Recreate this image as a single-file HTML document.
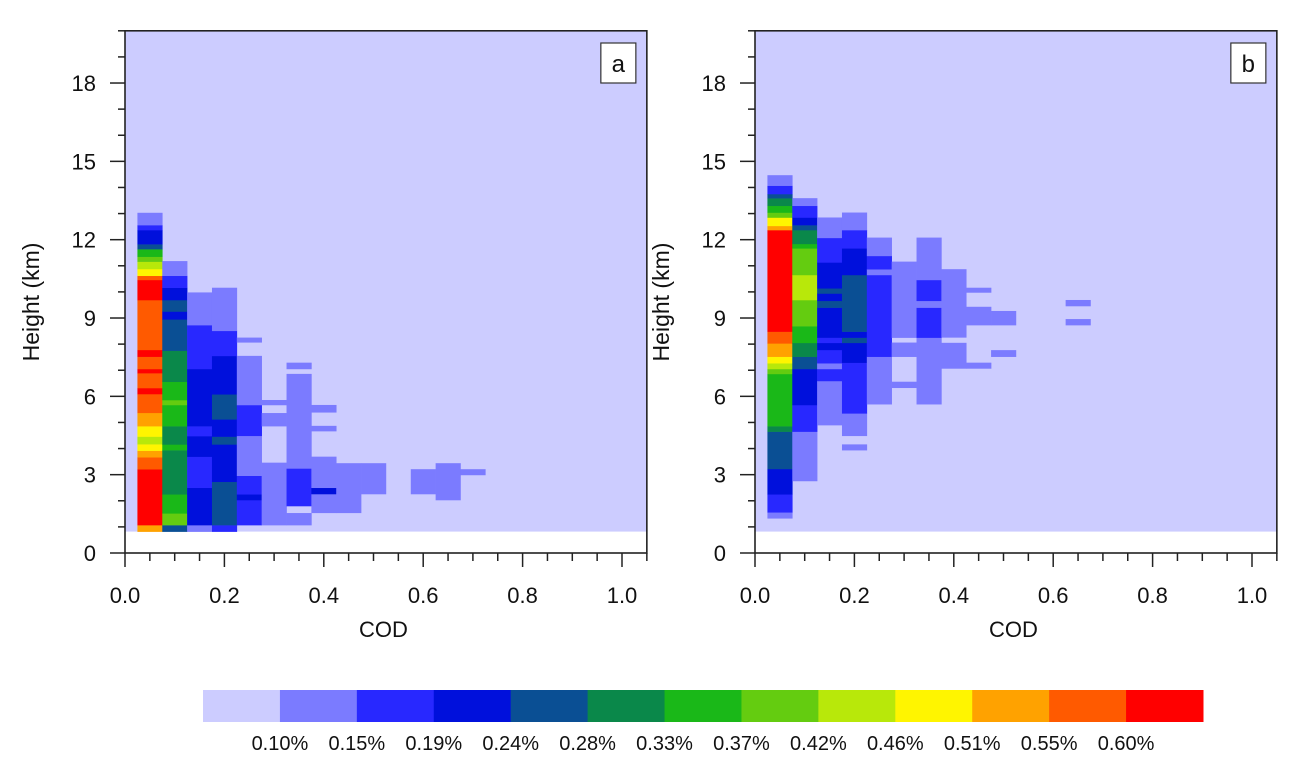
<!DOCTYPE html>
<html><head><meta charset="utf-8"><style>
html,body{margin:0;padding:0;background:#fff;}
svg{display:block;font-family:"Liberation Sans",Arial,sans-serif;}
</style></head><body>
<svg id="chart" width="1307" height="772" viewBox="0 0 1307 772" xmlns="http://www.w3.org/2000/svg"></svg>
<script>
// ---- data ----
const colors = ["#ccccff","#7b7bff","#2828ff","#0010dc","#0a4f94","#0a884a","#1ab818","#64cc10","#b8e80a","#fff500","#ffa200","#ff5a00","#ff0000"];
const levelLabels = ["0.10%","0.15%","0.19%","0.24%","0.28%","0.33%","0.37%","0.42%","0.46%","0.51%","0.55%","0.60%"];
const xTicks = [0.0,0.2,0.4,0.6,0.8,1.0];
const xTickLabels = ["0.0","0.2","0.4","0.6","0.8","1.0"];
const yTicks = [0,3,6,9,12,15,18];
const panelNames = ["a","b"];
// segments: [columnIndex, bottomKm, topKm, level]; column i spans COD 0.025+0.05i .. 0.075+0.05i
const segsA = [
[0,0.82,1.07,10],[0,1.07,3.21,12],[0,3.21,3.67,11],[0,3.67,3.92,10],[0,3.92,4.17,9],[0,4.17,4.46,8],[0,4.46,4.86,9],[0,4.86,5.37,10],[0,5.37,6.09,11],[0,6.09,6.32,12],[0,6.32,6.89,11],[0,6.89,7.05,12],[0,7.05,7.52,11],[0,7.52,7.78,12],[0,7.78,9.69,11],[0,9.69,10.46,12],[0,10.46,10.62,11],[0,10.62,10.88,9],[0,10.88,11.16,8],[0,11.16,11.35,7],[0,11.35,11.64,6],[0,11.64,11.83,4],[0,11.83,12.37,3],[0,12.37,12.56,2],[0,12.56,13.03,1],
[1,0.82,1.07,4],[1,1.07,1.52,7],[1,1.52,2.25,6],[1,2.25,3.94,5],[1,3.94,4.16,6],[1,4.16,4.86,5],[1,4.86,5.67,6],[1,5.67,5.86,7],[1,5.86,6.56,6],[1,6.56,7.75,5],[1,7.75,8.95,4],[1,8.95,9.25,3],[1,9.25,9.69,4],[1,9.69,10.16,3],[1,10.16,10.62,2],[1,10.62,11.18,1],
[2,0.82,1.07,1],[2,1.07,2.50,3],[2,2.50,3.69,2],[2,3.69,4.48,3],[2,4.48,4.86,2],[2,4.86,7.05,3],[2,7.05,8.73,2],[2,8.73,9.98,1],
[3,0.82,1.07,2],[3,1.07,2.73,4],[3,2.73,4.16,3],[3,4.16,4.46,4],[3,4.46,5.12,3],[3,5.12,6.08,4],[3,6.08,7.55,3],[3,7.55,8.51,2],[3,8.51,10.16,1],
[4,1.07,2.03,2],[4,2.03,2.25,3],[4,2.25,2.96,2],[4,2.96,4.49,1],[4,4.49,5.67,2],[4,5.67,7.55,1],[4,8.07,8.25,1],
[5,1.07,3.46,1],[5,4.86,5.36,1],[5,5.67,5.86,1],
[6,1.07,1.53,1],[6,1.80,3.24,2],[6,3.24,6.86,1],[6,7.05,7.29,1],
[7,1.54,2.26,1],[7,2.26,2.50,3],[7,2.50,3.69,1],[7,4.67,4.87,1],[7,5.39,5.67,1],
[8,1.54,3.44,1],[9,2.26,3.44,1],[11,2.26,3.21,1],[12,2.03,3.44,1],[13,2.99,3.21,1]
];
const segsB = [
[0,1.33,1.56,1],[0,1.56,2.25,2],[0,2.25,3.22,3],[0,3.22,4.65,4],[0,4.65,4.86,5],[0,4.86,6.86,6],[0,6.86,7.05,7],[0,7.05,7.27,8],[0,7.27,7.52,9],[0,7.52,8.03,10],[0,8.03,8.48,11],[0,8.48,12.37,12],[0,12.37,12.53,10],[0,12.53,12.85,9],[0,12.85,13.04,7],[0,13.04,13.30,6],[0,13.30,13.59,5],[0,13.59,13.75,4],[0,13.75,14.07,2],[0,14.07,14.47,1],
[1,2.76,4.65,1],[1,4.65,5.67,2],[1,5.67,7.05,3],[1,7.05,7.52,4],[1,7.52,8.05,5],[1,8.05,8.69,6],[1,8.69,9.69,7],[1,9.69,10.65,8],[1,10.65,11.67,7],[1,11.67,11.84,6],[1,11.84,12.37,5],[1,12.37,12.56,4],[1,12.56,12.85,3],[1,12.85,13.30,2],[1,13.30,13.59,1],
[2,4.90,6.59,1],[2,6.59,7.05,2],[2,7.05,7.27,1],[2,7.27,7.78,2],[2,7.78,8.05,3],[2,8.05,8.25,2],[2,8.25,9.40,3],[2,9.40,9.66,4],[2,9.66,9.94,3],[2,9.94,10.14,4],[2,10.14,11.13,3],[2,11.13,12.07,2],[2,12.07,12.85,1],
[3,3.94,4.16,1],[3,4.49,5.35,1],[3,5.35,7.29,2],[3,7.29,8.05,3],[3,8.05,8.25,4],[3,8.25,8.48,3],[3,8.48,10.65,4],[3,10.65,11.67,3],[3,11.67,12.37,2],[3,12.37,13.04,1],
[4,5.70,7.52,1],[4,7.52,10.65,2],[4,10.65,10.87,1],[4,10.87,11.38,2],[4,11.38,12.08,1],
[5,6.33,6.56,1],[5,7.52,8.06,1],[5,8.25,11.16,1],
[6,5.70,8.25,1],[6,8.25,9.40,2],[6,9.40,9.66,1],[6,9.66,10.46,2],[6,10.46,12.08,1],
[7,7.07,8.05,1],[7,8.26,10.87,1],
[8,7.07,7.29,1],[8,8.73,9.43,1],[8,9.98,10.16,1],
[9,7.52,7.77,1],[9,8.73,9.27,1],
[12,8.73,8.96,1],[12,9.46,9.69,1]
];
const panelSegs = [segsA, segsB];

// ---- layout ----
const NS="http://www.w3.org/2000/svg";
const svg=document.getElementById('chart');
function mk(tag,attrs,parent){const e=document.createElementNS(NS,tag);for(const k in attrs)e.setAttribute(k,attrs[k]);(parent||svg).appendChild(e);return e;}
const panelX0=[125,755];
const pxPerX=497, yBottom=553, pxPerKm=26.11, xMax=1.05, yMax=20, dataBottom=0.82;

panelNames.forEach((nm,p)=>{
  const x0=panelX0[p];
  const X=v=>x0+v*pxPerX;
  const Y=v=>yBottom-v*pxPerKm;
  const g=mk('g',{});
  
  
  const bg=mk('rect',{x:X(0),y:Y(yMax),width:X(xMax)-X(0),height:Y(dataBottom)-Y(yMax),fill:colors[0]},g);
  
  
  panelSegs[p].forEach(s=>{
    const c0=0.025+0.05*s[0], c1=c0+0.05;
    const r=mk('rect',{x:X(c0),y:Y(s[2]),width:X(c1)-X(c0)+0.3,height:Y(s[1])-Y(s[2])+0.3,fill:colors[s[3]]},g);
    
    
  });
  const fr=mk('rect',{x:X(0),y:Y(yMax),width:X(xMax)-X(0),height:Y(0)-Y(yMax),fill:'none',stroke:'#222','stroke-width':1.6},g);
  
  
  for(let k=0;k<=yMax;k++){
    const major=k%3===0;
    mk('line',{x1:X(0)-(major?15:7),x2:X(0),y1:Y(k),y2:Y(k),stroke:'#222','stroke-width':1.5},g);
  }
  yTicks.forEach(t=>{
    const tx=mk('text',{x:X(0)-29,y:Y(t)+8,'text-anchor':'end','font-size':22,fill:'#111'},g);
    tx.textContent=String(t);
    
    
  });
  for(let k=0;k<=21;k++){
    const v=k*0.05, major=k%4===0;
    mk('line',{x1:X(v),x2:X(v),y1:Y(0),y2:Y(0)+(major?14:8),stroke:'#222','stroke-width':1.5},g);
  }
  xTicks.forEach((t,i)=>{
    const tx=mk('text',{x:X(t),y:Y(0)+50,'text-anchor':'middle','font-size':22,fill:'#111'},g);
    tx.textContent=xTickLabels[i];
    
    
  });
  const xt=mk('text',{x:X(0.52),y:637,'text-anchor':'middle','font-size':22,fill:'#111'},g);
  xt.textContent='COD';
  
  
  const cy=302, cx=x0-86;
  const yt=mk('text',{x:cx,y:cy,'text-anchor':'middle','font-size':23,fill:'#111',transform:`rotate(-90 ${cx} ${cy})`},g);
  yt.textContent='Height (km)';
  
  
  const bx=X(xMax)-46;
  const lb=mk('rect',{x:bx,y:43,width:35,height:40,fill:'#fff',stroke:'#333','stroke-width':1.2},g);
  
  
  const lt=mk('text',{x:bx+17.5,y:72,'text-anchor':'middle','font-size':24,fill:'#111'},g);
  lt.textContent=nm;
  
  
});

const cb=mk('g',{});


const cbX=203, cbW=1000/13;
colors.forEach((c,i)=>{
  const r=mk('rect',{x:cbX+i*cbW,y:690,width:cbW+0.5,height:32,fill:c},cb);
  
  
});
levelLabels.forEach((l,i)=>{
  const t=mk('text',{x:cbX+(i+1)*cbW,y:750,'text-anchor':'middle','font-size':20,fill:'#111'},cb);
  t.textContent=l;
  
  
});
</script>
</body></html>
